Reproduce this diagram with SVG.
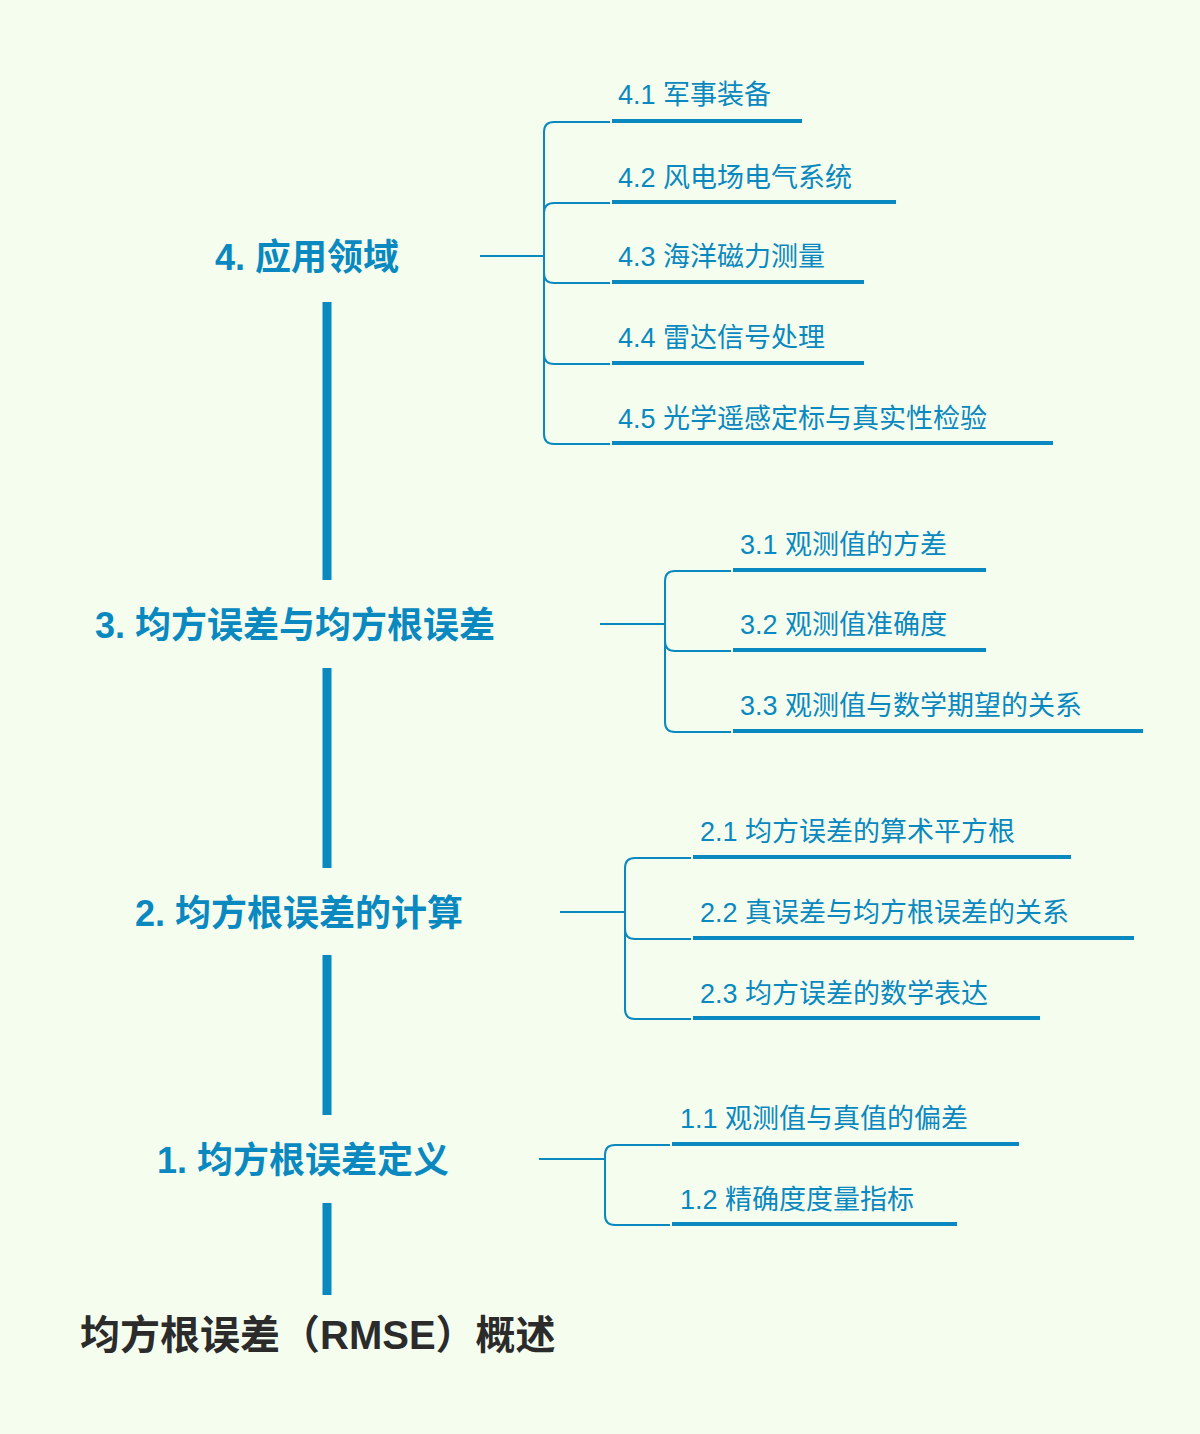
<svg xmlns="http://www.w3.org/2000/svg" width="1200" height="1434" viewBox="0 0 1200 1434">
<style>
.h{font-family:"Liberation Sans","Noto Sans CJK SC",sans-serif;font-weight:bold;font-size:36px;fill:#0a88c0}
.c{font-family:"Liberation Sans","Noto Sans CJK SC",sans-serif;font-size:27px;fill:#0a88c0}
.t{font-family:"Liberation Sans","Noto Sans CJK SC",sans-serif;font-weight:bold;font-size:40px;fill:#2b2b2b}
.trunk{stroke:#0a88c0;stroke-width:9;fill:none}
.br{stroke:#0a88c0;stroke-width:2;fill:none}
.ul{stroke:#0a88c0;stroke-width:4;fill:none}
</style>
<rect width="1200" height="1434" fill="#f5fdee"/>
<g id="connectors">
<path class="trunk" d="M327,302V580M327,668V868M327,955V1115M327,1203V1295"/>
<path class="br" d="M480,256H544M610,122H554Q544,122 544,132V434Q544,444 554,444H610M544,213Q544,203 554,203H610M544,273Q544,283 554,283H610M544,354Q544,364 554,364H610"/>
<path class="br" d="M600,624H665M731,571H675Q665,571 665,581V722Q665,732 675,732H731M665,641Q665,651 675,651H731"/>
<path class="br" d="M560,912H625M691,858H635Q625,858 625,868V1009Q625,1019 635,1019H691M625,929Q625,939 635,939H691"/>
<path class="br" d="M539,1159H605M670,1145H615Q605,1145 605,1155V1215Q605,1225 615,1225H670"/>
</g>
<g id="title"><text class="t" x="80" y="1349">均方根误差（RMSE）概述</text></g>
<g id="n4"><text class="h" x="215" y="270">4.  应用领域</text></g>
<g id="n3"><text class="h" x="95" y="638">3.  均方误差与均方根误差</text></g>
<g id="n2"><text class="h" x="135" y="926">2.  均方根误差的计算</text></g>
<g id="n1"><text class="h" x="157" y="1173">1.  均方根误差定义</text></g>
<g id="n41"><text class="c" x="618" y="104">4.1 军事装备</text><path class="ul" d="M612,121H802"/></g>
<g id="n42"><text class="c" x="618" y="187">4.2 风电场电气系统</text><path class="ul" d="M612,202H896"/></g>
<g id="n43"><text class="c" x="618" y="266">4.3 海洋磁力测量</text><path class="ul" d="M612,282H864"/></g>
<g id="n44"><text class="c" x="618" y="347">4.4 雷达信号处理</text><path class="ul" d="M612,363H864"/></g>
<g id="n45"><text class="c" x="618" y="428">4.5 光学遥感定标与真实性检验</text><path class="ul" d="M612,443H1053"/></g>
<g id="n31"><text class="c" x="740" y="554">3.1 观测值的方差</text><path class="ul" d="M733,570H986"/></g>
<g id="n32"><text class="c" x="740" y="634">3.2 观测值准确度</text><path class="ul" d="M733,650H986"/></g>
<g id="n33"><text class="c" x="740" y="715">3.3 观测值与数学期望的关系</text><path class="ul" d="M733,731H1143"/></g>
<g id="n21"><text class="c" x="700" y="841">2.1 均方误差的算术平方根</text><path class="ul" d="M693,857H1071"/></g>
<g id="n22"><text class="c" x="700" y="922">2.2 真误差与均方根误差的关系</text><path class="ul" d="M693,938H1134"/></g>
<g id="n23"><text class="c" x="700" y="1003">2.3 均方误差的数学表达</text><path class="ul" d="M693,1018H1040"/></g>
<g id="n11"><text class="c" x="680" y="1128">1.1 观测值与真值的偏差</text><path class="ul" d="M672,1144H1019"/></g>
<g id="n12"><text class="c" x="680" y="1209">1.2 精确度度量指标</text><path class="ul" d="M672,1224H957"/></g>
</svg>
